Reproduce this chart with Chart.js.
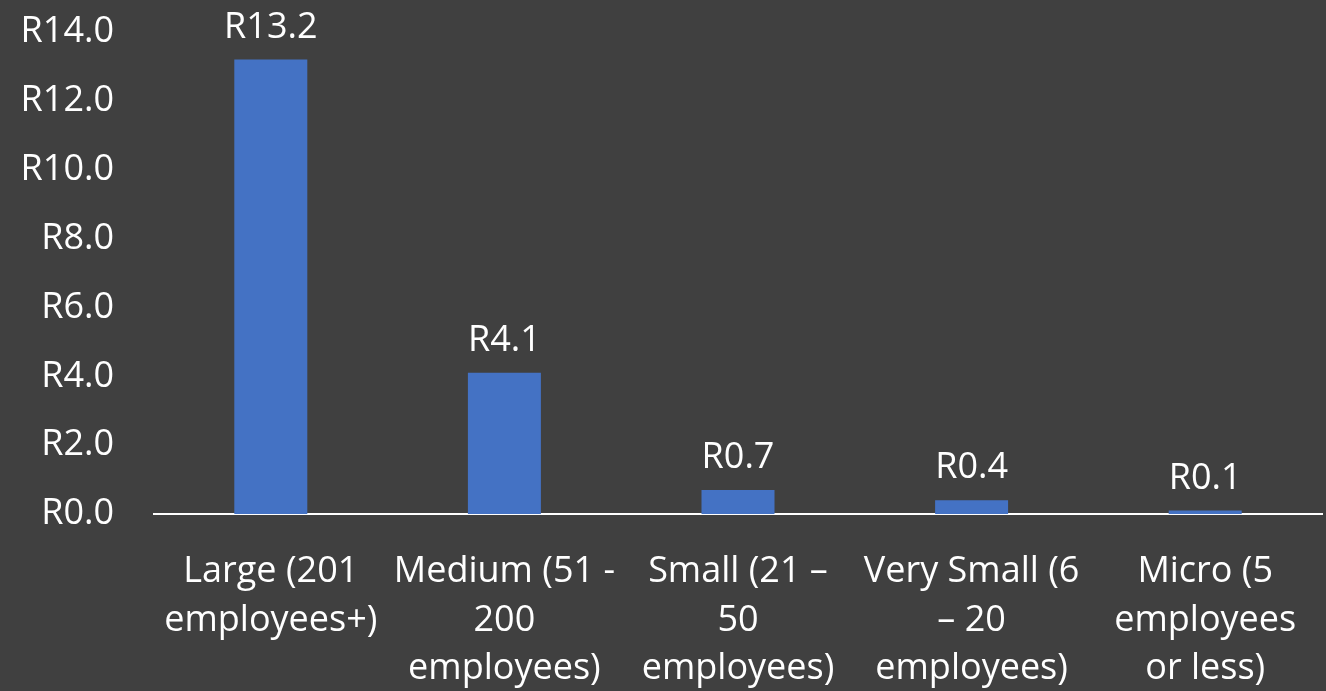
<!DOCTYPE html>
<html>
<head>
<meta charset="utf-8">
<script src="https://cdn.jsdelivr.net/npm/chart.js@4"></script>
<style>
  html, body { margin: 0; padding: 0; background: #404040; }
  canvas { display: block; }
</style>
</head>
<body>
<canvas id="c" width="1326" height="691"></canvas>
<script>
const categories = [
  ["Large (201", "employees+)"],
  ["Medium (51 -", "200", "employees)"],
  ["Small (21 \u2013", "50", "employees)"],
  ["Very Small (6", "\u2013 20", "employees)"],
  ["Micro (5", "employees", "or less)"]
];
const values = [13.2, 4.1, 0.7, 0.4, 0.1];
const valueLabels = ["R13.2", "R4.1", "R0.7", "R0.4", "R0.1"];
const yMin = 0, yMax = 14, yStep = 2;

const FONT = "'Open Sans', sans-serif";
const TEXT = "#ffffff";

const bgPlugin = {
  id: 'bg',
  beforeDraw(chart) {
    const ctx = chart.ctx;
    ctx.save();
    ctx.fillStyle = '#404040';
    ctx.fillRect(0, 0, chart.width, chart.height);
    ctx.restore();
  }
};

const labelPlugin = {
  id: 'valueLabels',
  afterDatasetsDraw(chart) {
    const ctx = chart.ctx;
    const meta = chart.getDatasetMeta(0);
    ctx.save();
    ctx.font = "36px " + FONT;
    ctx.fillStyle = TEXT;
    ctx.textAlign = 'center';
    ctx.textBaseline = 'middle';
    meta.data.forEach((bar, i) => {
      ctx.fillText(valueLabels[i], bar.x, bar.y - 32);
    });
    ctx.restore();
  }
};

new Chart(document.getElementById('c'), {
  type: 'bar',
  data: {
    labels: categories,
    datasets: [{
      data: values,
      backgroundColor: '#4472C4',
      borderWidth: 0,
      categoryPercentage: 1,
      barPercentage: 0.3125
    }]
  },
  options: {
    responsive: false,
    animation: false,
    events: [],
    layout: { padding: { left: 20, right: 4, top: 32, bottom: 0 } },
    plugins: {
      legend: { display: false },
      tooltip: { enabled: false }
    },
    scales: {
      x: {
        grid: { display: false, drawTicks: false },
        border: { display: true, color: '#ffffff', width: 2 },
        ticks: {
          color: TEXT,
          font: { family: FONT, size: 36, lineHeight: 1.34 },
          padding: 34,
          maxRotation: 0,
          autoSkip: false
        },
        afterFit(s) {
          s.height = 177;
          s.paddingLeft = 0; s.paddingRight = 0;
          s.paddingTop = 0; s.paddingBottom = 0;
        }
      },
      y: {
        min: yMin,
        max: yMax,
        grid: { display: false, drawTicks: false },
        border: { display: false },
        ticks: {
          stepSize: yStep,
          color: TEXT,
          font: { family: FONT, size: 36, lineHeight: 1.33 },
          padding: 40,
          callback: v => 'R' + Number(v).toFixed(1)
        },
        afterFit(s) {
          s.width = 134;
          s.paddingTop = 0; s.paddingBottom = 0;
          s.paddingLeft = 0; s.paddingRight = 0;
        }
      }
    }
  },
  plugins: [bgPlugin, labelPlugin]
});
</script>
</body>
</html>
